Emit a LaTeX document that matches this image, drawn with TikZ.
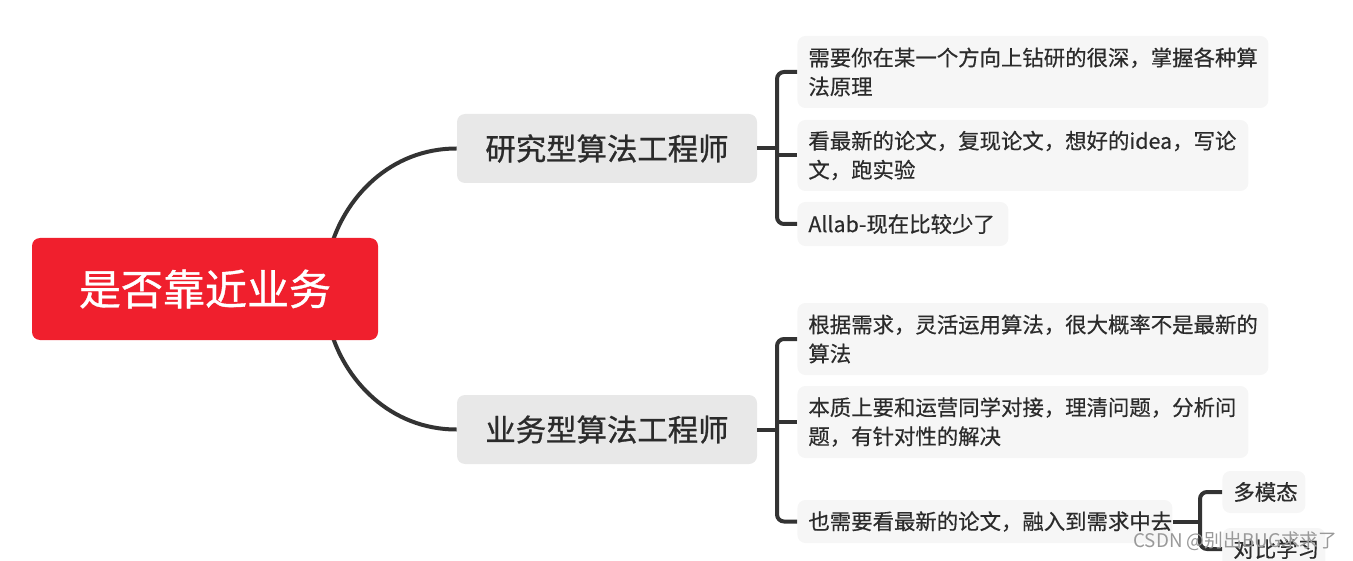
\documentclass[tikz,border=0pt]{standalone}
\usepackage{fontspec}
\setmainfont{Noto Sans CJK SC}
\newfontfamily\fmed{Noto Sans CJK SC}[FakeBold=0.9]
\newfontfamily\fleaf{Noto Sans CJK SC}[FakeBold=0.45]
\usetikzlibrary{backgrounds}
\definecolor{rootred}{HTML}{F01F2D}
\definecolor{midgray}{HTML}{E8E8E8}
\definecolor{leafgray}{HTML}{F6F6F6}
\definecolor{linec}{HTML}{333333}
\definecolor{textc}{HTML}{2B2B2B}
\definecolor{wmgray}{HTML}{999999}
\begin{document}
\begin{tikzpicture}[x=0.5pt,y=-0.5pt,
 rootbox/.style={fill=rootred, rounded corners=4pt, minimum width=173pt, minimum height=51pt, text=white, font=\fmed\fontsize{21}{24}\selectfont, inner sep=0pt},
 midbox/.style={fill=midgray, rounded corners=4pt, minimum width=150pt, minimum height=34.5pt, text=textc, font=\fmed\fontsize{15.2}{18}\selectfont, inner sep=0pt},
 leafbox/.style={fill=leafgray, rounded corners=4pt, anchor=west, align=left, inner xsep=5.5pt, inner ysep=0pt, text=textc, font=\fleaf\fontsize{10.7}{14.5}\selectfont},
 conn/.style={draw=linec, line width=2pt},
 brk/.style={draw=linec, line width=2pt, rounded corners=3.5pt},
 wm/.style={text=wmgray, anchor=west, inner sep=0pt, font=\fontsize{9.4}{11}\selectfont}]
\useasboundingbox (0,0) rectangle (1353,561);
\clip (0,0) rectangle (1353,561);
% root and main branches
\node[rootbox] (root) at (205,289) {是否靠近业务};
\node[midbox] (res) at (607,148.5) {研究型算法工程师};
\node[midbox] (biz) at (607,429.5) {业务型算法工程师};
% leaves of research branch
\node[leafbox, text width=224.5pt, minimum height=36pt] (l1) at (797,72) {需要你在某一个方向上钻研的很深，掌握各种算\\法原理};
\node[leafbox, text width=214.5pt, minimum height=35.5pt] (l2) at (797,155.5) {看最新的论文，复现论文，想好的idea，写论\\文，跑实验};
\node[leafbox, text width=94.5pt, minimum height=22pt] (l3) at (797,224) {\mbox{Allab-现在比较少了}};
% leaves of business branch
\node[leafbox, text width=224.5pt, minimum height=36pt] (l4) at (797,339) {根据需求，灵活运用算法，很大概率不是最新的\\算法};
\node[leafbox, text width=214.5pt, minimum height=36pt] (l5) at (797,422) {本质上要和运营同学对接，理清问题，分析问\\题，有针对性的解决};
\node[leafbox, text width=176.5pt, minimum height=21.5pt] (l6) at (797,521.5) {也需要看最新的论文，融入到需求中去};
\node[leafbox, text width=30.5pt, minimum height=21pt] (l7) at (1222,492) {多模态};
\node[leafbox, text width=40.5pt, minimum height=21pt] (l8) at (1222,549) {对比学习};
% connectors
\coordinate (rt) at (330,250);
\coordinate (rt1) at (344,198);
\coordinate (rt2) at (390,148.5);
\coordinate (rb) at (330,328);
\coordinate (rb1) at (344,380);
\coordinate (rb2) at (390,429.5);
\begin{scope}[on background layer]
\draw[conn] (rt) .. controls (rt1) and (rt2) .. (res.west);
\draw[conn] (rb) .. controls (rb1) and (rb2) .. (biz.west);
\end{scope}
\coordinate (ba) at (777,148.5);
\draw[conn] (res.east) -- (ba);
\draw[brk] (l1.west) -| (ba) |- (l3.west);
\draw[conn] (l2.west) -- (l2.west -| ba);
\coordinate (bb) at (777,429.5);
\draw[conn] (biz.east) -- (bb);
\draw[brk] (l4.west) -| (bb) |- (l6.west);
\draw[conn] (l5.west) -- (l5.west -| bb);
\coordinate (bc) at (1200,521.5);
\draw[conn] (l6.east) -- (bc);
\draw[brk] (l7.west) -| (bc) |- (l8.west);
% watermark
\node[wm] (mark) at (1133,541) {CSDN @别出BUG求求了};
\end{tikzpicture}
\end{document}
